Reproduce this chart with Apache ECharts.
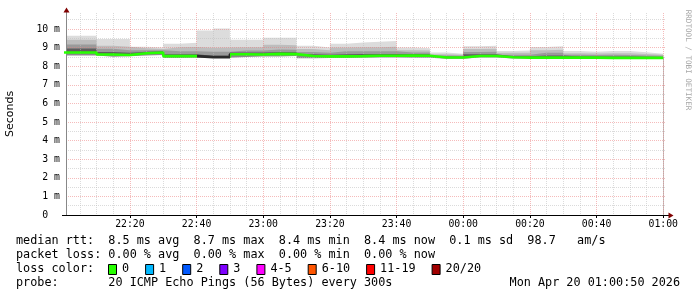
<!DOCTYPE html>
<html><head><meta charset="utf-8">
<script src="https://cdn.jsdelivr.net/npm/echarts@6/dist/echarts.min.js"></script>
<style>html,body{margin:0;padding:0;background:#fff}#c{width:697px;height:297px}</style>
</head><body><div id="c"></div>
<script>
// step start, minutes after 22:00 (5-minute steps)
const stepStart = [0,5,10,15,20,25,30,35,40,45,50,55,60,65,70,75,80,85,90,95,100,105,110,115,120,125,130,135,140,145,150,155,160,165,170,175,180];
// smoke levels in ms (sorted ping percentiles) per step
const maxv   = [9.64,9.64,9.46,9.46,9.05,9.00,9.21,9.26,9.92,10.03,9.42,9.42,9.53,9.53,9.10,9.00,9.21,9.28,9.32,9.35,9.00,8.96,8.73,8.67,9.07,9.10,8.82,8.85,9.03,9.07,8.82,8.78,8.82,8.82,8.75,8.67,8.67];
const p90    = [9.42,9.42,9.10,9.05,8.96,8.93,9.02,9.03,8.99,9.00,9.02,9.02,9.15,9.12,8.92,8.86,9.00,9.02,9.02,9.04,8.86,8.84,8.64,8.61,8.92,8.94,8.72,8.72,8.86,8.88,8.70,8.68,8.70,8.70,8.66,8.62,8.62];
const p75    = [9.17,9.17,8.94,8.86,8.86,8.86,8.80,8.80,8.78,8.78,8.85,8.85,8.90,8.88,8.76,8.72,8.80,8.80,8.80,8.81,8.74,8.73,8.58,8.56,8.76,8.77,8.62,8.62,8.72,8.72,8.61,8.60,8.61,8.60,8.58,8.56,8.56];
const p60    = [8.95,8.95,8.76,8.72,8.78,8.80,8.64,8.64,8.56,8.56,8.74,8.74,8.76,8.75,8.64,8.62,8.64,8.65,8.66,8.66,8.65,8.64,8.52,8.51,8.64,8.64,8.54,8.53,8.58,8.58,8.52,8.52,8.52,8.52,8.51,8.50,8.50];
const median = [8.74,8.74,8.63,8.60,8.70,8.74,8.54,8.54,8.49,8.49,8.64,8.63,8.66,8.65,8.55,8.53,8.53,8.54,8.56,8.56,8.57,8.56,8.47,8.47,8.55,8.55,8.48,8.46,8.46,8.46,8.46,8.46,8.45,8.45,8.45,8.45,8.45];
const minv   = [8.57,8.57,8.51,8.53,8.58,8.60,8.44,8.45,8.45,8.45,8.50,8.52,8.52,8.55,8.43,8.44,8.44,8.45,8.47,8.47,8.45,8.45,8.40,8.40,8.47,8.47,8.41,8.41,8.41,8.41,8.41,8.41,8.40,8.40,8.40,8.40,8.40];
// steps where the median line shows dark instead of green
const darkMedianSteps = [40, 45];

// axes (minutes after 22:00)
const xMin = 0.8333, xMax = 180.8333; // 22:00:50 .. 01:00:50
const xMajorValues = [20,40,60,80,100,120,140,160,180];
const xMajorLabels = ['22:20','22:40','23:00','23:20','23:40','00:00','00:20','00:40','01:00'];
const xMinorValues = [5,10,15,25,30,35,45,50,55,65,70,75,85,90,95,105,110,115,125,130,135,145,150,155,165,170,175];
const yMajorValues = [0,1,2,3,4,5,6,7,8,9,10];
const yMajorLabels = ['0  ','1 m','2 m','3 m','4 m','5 m','6 m','7 m','8 m','9 m','10 m'];
const yMax = 10.86;

// legend
const legendLines = [
  'median rtt:  8.5 ms avg  8.7 ms max  8.4 ms min  8.4 ms now  0.1 ms sd  98.7   am/s',
  'packet loss: 0.00 % avg  0.00 % max  0.00 % min  0.00 % now',
  'loss color:',
  'probe:       20 ICMP Echo Pings (56 Bytes) every 300s'
];
const lossLabels = ['0','1','2','3','4-5','6-10','11-19','20/20'];
const lossColors = ['#26ff00','#00b8ff','#0059ff','#7e00ff','#ff00ff','#ff5500','#ff0000','#a10000'];
const stamp = 'Mon Apr 20 01:00:50 2026';

const GREEN = '#26ff00';
const MONO = "'DejaVu Sans Mono', monospace";
const pair = (arr) => stepStart.map((x, i) => [x, arr[i]]);

// smoke: filled step areas drawn from the outermost level inwards, the last (min) in white
const layers = [
  { data: maxv, color: '#dcdcdc' },
  { data: p90, color: '#bdbdbd' },
  { data: p75, color: '#9a9a9a' },
  { data: p60, color: '#5e5e5e' },
  { data: median, color: '#8a8a8a' },
  { data: minv, color: '#ffffff' }
];

const series = layers.map((b, i) => ({
  type: 'line', step: 'end', symbol: 'none', xAxisIndex: 0,
  data: pair(b.data), lineStyle: { width: 0, opacity: 0 },
  areaStyle: { color: b.color, opacity: 1, origin: 'start' },
  silent: true, z: 1 + i * 0.01
}));
series.push({
  type: 'line', step: 'end', symbol: 'none', xAxisIndex: 0,
  data: pair(median), lineStyle: { width: 2.6 }, z: 8, silent: true
});
const medianIdx = series.length - 1;

const dStart = Math.min(...darkMedianSteps), dEnd = Math.max(...darkMedianSteps) + 5;
const pieces = [
  { lt: dStart, color: GREEN },
  { gte: dStart, lt: dEnd, color: '#2a2a2a' },
  { gte: dEnd, color: GREEN }
];

// legend graphics
const graphic = [];
const rowY = [241, 255, 269, 283];
legendLines.forEach((t, i) => graphic.push({
  type: 'text', x: 16, y: rowY[i], silent: true,
  style: { text: t, font: "11.8px " + MONO, fill: '#000', textAlign: 'left', textVerticalAlign: 'middle' }
}));
graphic.push({ type: 'text', x: 680, y: rowY[3], silent: true,
  style: { text: stamp, font: "11.8px " + MONO, fill: '#000', textAlign: 'right', textVerticalAlign: 'middle' } });
let bx = 108;
lossLabels.forEach((lab, i) => {
  graphic.push({ type: 'rect', silent: true, shape: { x: bx + 0.5, y: 264.5, width: 8, height: 10 },
    style: { fill: lossColors[i], stroke: '#000', lineWidth: 1 } });
  graphic.push({ type: 'text', x: bx + 14, y: rowY[2], silent: true,
    style: { text: lab, font: "11.8px " + MONO, fill: '#000', textAlign: 'left', textVerticalAlign: 'middle' } });
  bx += 30 + lab.length * 7.1;
});
// watermark
graphic.push({ type: 'text', x: 688, y: 60, rotation: -Math.PI / 2, silent: true,
  style: { text: 'RRDTOOL / TOBI OETIKER', font: "7.6px " + MONO, fill: '#a8a8a8', textAlign: 'center', textVerticalAlign: 'middle' } });
// axis arrows and extensions
graphic.push({ type: 'line', silent: true, z: 20, shape: { x1: 62, y1: 215.5, x2: 669, y2: 215.5 }, style: { stroke: '#000', lineWidth: 1 } });
graphic.push({ type: 'line', silent: true, z: 20, shape: { x1: 66.5, y1: 9, x2: 66.5, y2: 14 }, style: { stroke: '#888', lineWidth: 1 } });
graphic.push({ type: 'polygon', silent: true, z: 20, shape: { points: [[63.5, 12.5], [69.5, 12.5], [66.5, 7.5]] }, style: { fill: '#800000' } });
graphic.push({ type: 'polygon', silent: true, z: 20, shape: { points: [[668.5, 212.5], [668.5, 218.5], [673.5, 215.5]] }, style: { fill: '#800000' } });

const GRID_C = 'rgba(190,190,190,0.55)';
const MGRID_C = 'rgba(235,120,120,0.5)';

const option = {
  animation: false,
  backgroundColor: '#fff',
  grid: { left: 66, top: 13, width: 600, height: 202, outerBoundsMode: 'none' },
  xAxis: [
    {
      type: 'value', min: xMin, max: xMax, position: 'bottom', z: 6,
      axisLine: { show: true, lineStyle: { color: '#000', width: 1 } },
      axisTick: { show: true, customValues: xMajorValues, length: 3, lineStyle: { color: '#000' } },
      axisLabel: { customValues: xMajorValues, margin: 4, fontFamily: MONO, fontSize: 9.8, color: '#000',
        formatter: (v) => xMajorLabels[xMajorValues.indexOf(Math.round(v))] },
      splitLine: { show: true, lineStyle: { color: MGRID_C, type: [1, 1], width: 1 } }
    },
    {
      type: 'value', min: xMin, max: xMax, position: 'bottom', z: 5,
      axisLine: { show: false },
      axisTick: { show: false, customValues: xMinorValues },
      axisLabel: { show: false, customValues: xMinorValues },
      splitLine: { show: true, lineStyle: { color: GRID_C, type: [1, 1], width: 1 } }
    }
  ],
  yAxis: {
    type: 'value', min: 0, max: yMax, interval: 1, z: 6,
    name: 'Seconds', nameLocation: 'middle', nameGap: 50,
    nameTextStyle: { fontFamily: "'DejaVu Sans', sans-serif", fontSize: 11, color: '#000' },
    axisLine: { show: true, lineStyle: { color: '#888' } },
    axisTick: { show: false, customValues: yMajorValues },
    axisLabel: { customValues: yMajorValues, margin: 6, fontFamily: MONO, fontSize: 9.8, color: '#000',
      formatter: (v) => yMajorLabels[yMajorValues.indexOf(Math.round(v))] },
    splitLine: { show: true, lineStyle: { color: MGRID_C, type: [1, 1] } },
    minorTick: { show: false, splitNumber: 2 },
    minorSplitLine: { show: true, lineStyle: { color: GRID_C, type: [1, 1] } }
  },
  visualMap: { show: false, type: 'piecewise', seriesIndex: medianIdx, dimension: 0, pieces: pieces },
  series: series,
  graphic: graphic
};
const chart = echarts.init(document.getElementById('c'), null, { renderer: 'canvas' });
chart.setOption(option);
</script>
</body></html>
